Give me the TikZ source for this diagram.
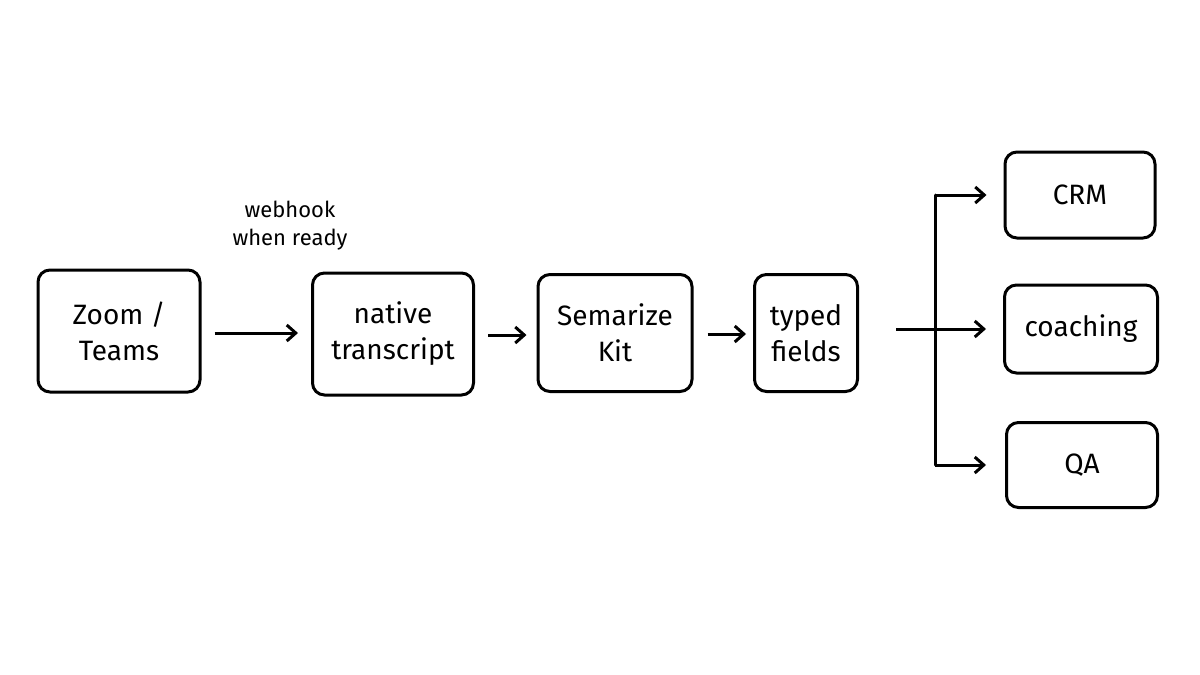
\documentclass[tikz,border=0pt]{standalone}
\usepackage{fontspec}
\setmainfont{Fira Sans}
\usetikzlibrary{arrows.meta}
\begin{document}
\begin{tikzpicture}[x=1pt,y=-1pt,
  box/.style={draw,line width=3pt,rounded corners=12pt,align=center,font=\fontsize{28}{36}\selectfont,inner sep=0pt},
  arr/.style={line width=3pt,-{Straight Barb[length=9pt,width=16pt]}},
  lbl/.style={align=center,font=\fontsize{22}{28}\selectfont}]
\useasboundingbox (0,0) rectangle (1200,675);
\node[box,minimum width=162pt,minimum height=122pt] (zoom) at (119,331) {Zoom /\\Teams};
\node[box,minimum width=161pt,minimum height=122pt] (nt) at (393,334) {native\\transcript};
\node[box,minimum width=154pt,minimum height=117pt] (sk) at (615,333) {Semarize\\Kit};
\node[box,minimum width=103pt,minimum height=117pt] (tf) at (806,333) {typed\\fields};
\node[box,minimum width=150pt,minimum height=86pt] (crm) at (1080,195) {CRM};
\node[box,minimum width=153pt,minimum height=88pt] (co) at (1081,329) {coaching};
\node[box,minimum width=151pt,minimum height=85pt] (qa) at (1082,465) {QA};
\node[lbl] (wh) at (290,226) {webhook\\when ready};
\coordinate (j) at (935,329);
\draw[arr] ([xshift=13pt]zoom.east|-0,333) -- ([xshift=-13pt]nt.west|-0,333);
\draw[arr] ([xshift=13pt]nt.east|-0,335) -- ([xshift=-10pt]sk.west|-0,335);
\draw[arr] ([xshift=14pt]sk.east|-0,334) -- ([xshift=-7pt]tf.west|-0,334);
\draw[arr] ([xshift=37pt]tf.east|-0,329) -- ([xshift=-17pt]co.west|-0,329);
\draw[line width=3pt,line cap=round] (j|-crm) -- (j|-qa);
\draw[arr] (j|-crm) -- ([xshift=-17pt]crm.west);
\draw[arr] (j|-qa) -- ([xshift=-19pt]qa.west);
\end{tikzpicture}
\end{document}
